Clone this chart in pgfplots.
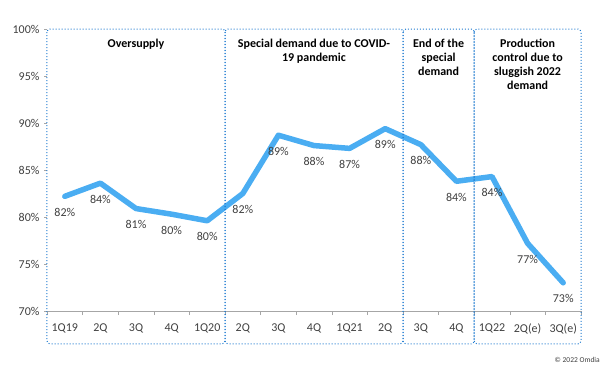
\documentclass[border=0pt]{standalone}
\usepackage{pgfplots}
\pgfplotsset{compat=1.18}
\usepackage{pgfplotstable}
\usepackage{fontspec}
\setmainfont{Carlito}
\definecolor{linec}{HTML}{4AADF2}
\definecolor{boxc}{HTML}{1F7BD0}
\definecolor{txt}{HTML}{404040}
\pgfplotstableread{
x y lab
0 82.2 82\%
1 83.6 84\%
2 80.9 81\%
3 80.3 80\%
4 79.6 80\%
5 82.5 82\%
6 88.7 89\%
7 87.6 88\%
8 87.3 87\%
9 89.4 89\%
10 87.7 88\%
11 83.8 84\%
12 84.3 84\%
13 77.2 77\%
14 73.0 73\%
}\datatable
\begin{document}
\begin{tikzpicture}[x=1pt,y=1pt]
\useasboundingbox (-47pt,-62pt) rectangle (562pt,311pt);
\begin{axis}[
  at={(0pt,0pt)}, anchor=south west,
  scale only axis, width=534pt, height=282pt,
  xmin=-0.5, xmax=14.5, ymin=70, ymax=100,
  clip=false,
  axis x line=bottom, axis y line=left,
  x axis line style={draw=gray!70, line width=0.8pt, -},
  y axis line style={draw=none, -},
  xtick={0,...,14},
  xticklabels={1Q19,2Q,3Q,4Q,1Q20,2Q,3Q,4Q,1Q21,2Q,3Q,4Q,1Q22,2Q(e),3Q(e)},
  major x tick style={draw=none},
  minor xtick={-0.5,0.5,...,14.5},
  minor x tick style={draw=gray!70, line width=0.6pt},
  minor tick length=4pt,
  ytick={70,75,...,100},
  yticklabels={70\%,75\%,80\%,85\%,90\%,95\%,100\%},
  major y tick style={draw=gray!70, line width=0.6pt},
  major tick length=3pt,
  tick align=outside,
  ticklabel style={font=\fontsize{12}{14}\selectfont, text=txt},
  xticklabel style={yshift=-6pt},
  yticklabel style={xshift=-1pt},
  /pgf/number format/assume math mode=true,
]
\addplot[linec, line width=5.5pt, line join=round, line cap=round,
  nodes near coords, point meta=explicit symbolic,
  every node near coord/.style={anchor=north, inner sep=0pt, yshift=-9pt,
    font=\fontsize{12}{14}\selectfont, text=txt}]
  table[x=x, y=y, meta=lab] {\datatable};
\begin{scope}[boxc, line width=1pt, dotted, rounded corners=3pt]
\draw (axis cs:-0.5,100) rectangle (axis cs:4.5,66.5);
\draw (axis cs:4.5,100) rectangle (axis cs:9.5,66.5);
\draw (axis cs:9.5,100) rectangle (axis cs:11.5,66.5);
\draw (axis cs:11.5,100) rectangle (axis cs:14.5,66.5);
\end{scope}
\begin{scope}[every node/.style={font=\bfseries\fontsize{12}{14.3}\selectfont, align=center, anchor=north, inner sep=0pt}]
\node at (axis cs:2,99) {Oversupply};
\node at (axis cs:7,99) {Special demand due to COVID-\\19 pandemic};
\node at (axis cs:10.5,99) {End of the\\special\\demand};
\node at (axis cs:13,99) {Production\\control due to\\sluggish 2022\\demand};
\end{scope}
\node[anchor=east, font=\fontsize{7.5}{9}\selectfont, text=txt, inner sep=0pt] at (axis cs:14.5,64.8) [xshift=19pt] {\textcopyright{} 2022 Omdia};
\end{axis}
\end{tikzpicture}
\end{document}
